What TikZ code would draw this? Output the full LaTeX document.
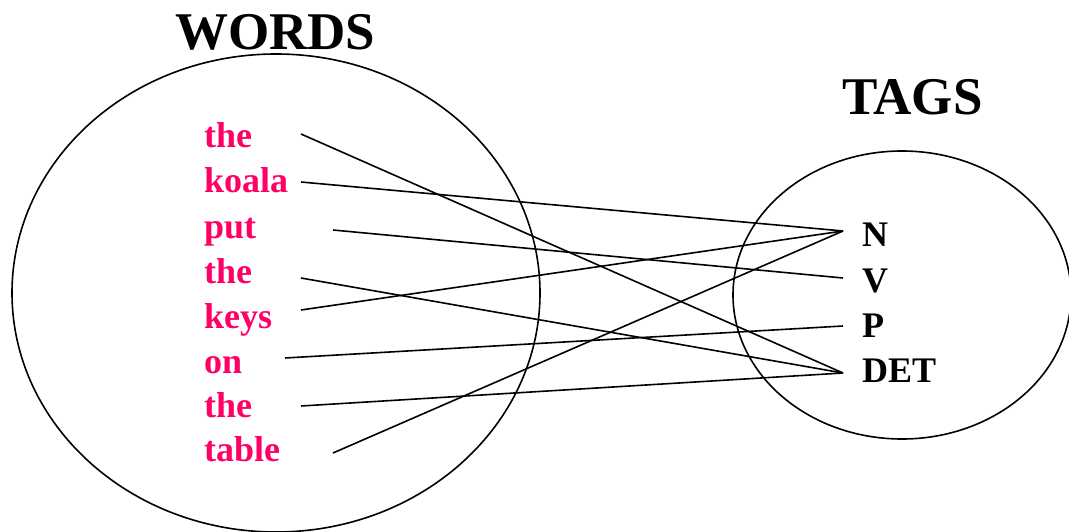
\documentclass[tikz,border=0pt]{standalone}
\usepackage{fontspec}
\setmainfont{Liberation Serif}
\definecolor{wordpink}{HTML}{FF0066}
\begin{document}
\begin{tikzpicture}[x=1pt,y=-1pt,
  word/.style={anchor=base west,inner sep=0pt,text=wordpink,font=\fontsize{36}{36}\selectfont\bfseries},
  tag/.style={anchor=base west,inner sep=0pt,font=\fontsize{36}{36}\selectfont\bfseries},
  title/.style={anchor=base west,inner sep=0pt,font=\fontsize{53}{53}\selectfont\bfseries},
  link/.style={line width=1.6pt},
  set/.style={line width=1.6pt}]
\useasboundingbox (0,0) rectangle (1069,532);
\begin{scope}
\clip (0,0) rectangle (1069,532);
\draw[set] (276,293) ellipse [x radius=264, y radius=239];
\draw[set] (902,295) ellipse [x radius=169, y radius=144];
\end{scope}
\node[title] (wt) at (175,50) {WORDS};
\node[title] (tt) at (842,115) {TAGS};
\node[word] (w1) at (204,148) {the};
\node[word] (w2) at (204,193) {koala};
\node[word] (w3) at (204,238) {put};
\node[word] (w4) at (204,283) {the};
\node[word] (w5) at (204,328) {keys};
\node[word] (w6) at (204,373) {on};
\node[word] (w7) at (204,417) {the};
\node[word] (w8) at (204,461) {table};
\node[tag] (tN) at (862,247) {N};
\node[tag] (tV) at (862,292) {V};
\node[tag] (tP) at (862,337) {P};
\node[tag] (tD) at (862,382) {DET};
\coordinate (a1) at (301,134);
\coordinate (a2) at (301,182);
\coordinate (a3) at (333,230);
\coordinate (a4) at (301,278);
\coordinate (a5) at (301,310);
\coordinate (a6) at (285,358);
\coordinate (a7) at (301,406);
\coordinate (a8) at (333,453);
\coordinate (bN) at (843,231);
\coordinate (bV) at (843,278);
\coordinate (bP) at (843,326);
\coordinate (bD) at (843,373);
\draw[link] (a1) -- (bD);
\draw[link] (a2) -- (bN);
\draw[link] (a3) -- (bV);
\draw[link] (a4) -- (bD);
\draw[link] (a5) -- (bN);
\draw[link] (a6) -- (bP);
\draw[link] (a7) -- (bD);
\draw[link] (a8) -- (bN);
\end{tikzpicture}
\end{document}
